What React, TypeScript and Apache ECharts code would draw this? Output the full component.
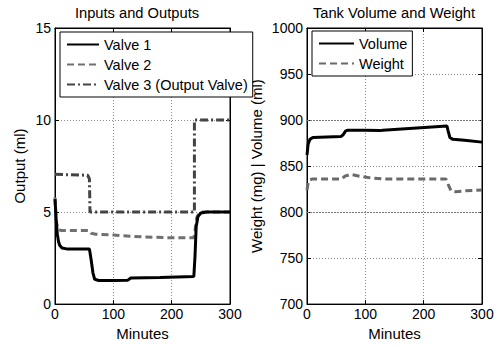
import React, { useEffect, useRef } from "react";
import * as echarts from "echarts";

const FONT = "Liberation Sans";

// Left panel: Inputs and Outputs
const valve1T = [0, 2, 4, 6, 8, 12, 20, 59, 62, 65, 68, 75, 100, 125, 130, 180, 238, 240, 242, 245, 250, 260, 300];
const valve1V = [5.7, 4.6, 3.8, 3.4, 3.2, 3.05, 3.0, 3.0, 2.4, 1.7, 1.35, 1.28, 1.28, 1.3, 1.42, 1.45, 1.5, 2.6, 4.2, 4.75, 4.95, 5.0, 5.0];

const valve2T = [0, 2, 5, 10, 58, 62, 70, 100, 150, 200, 238, 240, 243, 247, 252, 300];
const valve2V = [5.8, 4.5, 4.1, 4.0, 4.0, 3.85, 3.8, 3.75, 3.65, 3.6, 3.6, 4.0, 4.7, 4.95, 5.0, 5.0];

const valve3T = [0, 56, 59, 60, 239, 239, 300];
const valve3V = [7.05, 7.0, 6.8, 5.0, 5.0, 10.0, 10.0];

// Right panel: Tank Volume and Weight
const volumeT = [0, 2, 5, 10, 58, 62, 66, 70, 100, 125, 130, 240, 242, 245, 250, 270, 300];
const volumeV = [862, 874, 879, 881, 882, 884, 888, 889, 889, 888.5, 889, 893.5, 888, 881, 879, 878, 876];

const weightT = [0, 2, 5, 10, 60, 65, 75, 90, 110, 130, 238, 242, 247, 255, 270, 300];
const weightV = [824, 832, 835, 836, 836, 839, 841, 839, 837, 836, 836, 830, 823, 822, 823, 824];

const leftNames = ["Valve 1", "Valve 2", "Valve 3 (Output Valve)"];
const rightNames = ["Volume", "Weight"];
const xTicks = { min: 0, max: 300, interval: 100 };
const leftY = { min: 0, max: 15, interval: 5 };
const rightY = { min: 700, max: 1000, interval: 50 };
const rightMajorLines = [800, 900];

const zip = (t: number[], v: number[]) => t.map((x, i) => [x, v[i]]);

export default function App() {
  const ref = useRef<HTMLDivElement>(null);
  useEffect(() => {
    if (!ref.current) return;
    const chart = echarts.init(ref.current, null, { renderer: "svg" });
    const gridLine = { show: true, lineStyle: { color: "#8a8a8a", type: [1, 2] as any, width: 1 } };
    const labelStyle = { color: "#000", fontSize: 14, fontFamily: FONT, formatter: (v: number) => String(v) };
    const mainX = (gi: number) => ({
      type: "value",
      gridIndex: gi,
      ...xTicks,
      position: "bottom",
      axisLine: { show: true, onZero: false, lineStyle: { color: "#000" } },
      axisTick: { show: true, inside: true, length: 4, lineStyle: { color: "#000" } },
      axisLabel: { ...labelStyle, margin: 3 },
      splitLine: gridLine,
      name: "Minutes",
      nameLocation: "middle",
      nameGap: 19,
      nameTextStyle: { color: "#000", fontSize: 15, fontFamily: FONT },
    });
    const topX = (gi: number) => ({
      type: "value",
      gridIndex: gi,
      ...xTicks,
      position: "top",
      axisLine: { show: true, onZero: false, lineStyle: { color: "#000" } },
      axisTick: { show: true, inside: true, length: 4, lineStyle: { color: "#000" } },
      axisLabel: { show: false },
      splitLine: { show: false },
    });
    const mainY = (gi: number, r: any, name: string, gap: number) => ({
      type: "value",
      gridIndex: gi,
      ...r,
      position: "left",
      axisLine: { show: true, onZero: false, lineStyle: { color: "#000" } },
      axisTick: { show: true, inside: true, length: 4, lineStyle: { color: "#000" } },
      axisLabel: { ...labelStyle, margin: 4 },
      splitLine: gridLine,
      name,
      nameLocation: "middle",
      nameGap: gap,
      nameTextStyle: { color: "#000", fontSize: 15, fontFamily: FONT },
    });
    const rightSideY = (gi: number, r: any) => ({
      type: "value",
      gridIndex: gi,
      ...r,
      position: "right",
      axisLine: { show: true, onZero: false, lineStyle: { color: "#000" } },
      axisTick: { show: true, inside: true, length: 4, lineStyle: { color: "#000" } },
      axisLabel: { show: false },
      splitLine: { show: false },
    });
    const base = { type: "line", showSymbol: false, symbol: "none", smooth: false };
    const legendCommon = {
      orient: "vertical",
      padding: [5, 5, 5, 6],
      itemGap: 5,
      itemHeight: 14,
      backgroundColor: "#fff",
      borderColor: "#000",
      borderWidth: 1,
      borderRadius: 0,
      textStyle: { color: "#000", fontSize: 14.5, fontFamily: FONT },
      itemStyle: { opacity: 0 },
      selectedMode: false,
      z: 10,
    };
    chart.setOption({
      animation: false,
      backgroundColor: "#fff",
      textStyle: { fontFamily: FONT },
      grid: [
        { left: 55, top: 28, width: 175, height: 280, show: true, borderColor: "#000", borderWidth: 1 },
        { left: 307, top: 28, width: 175, height: 280, show: true, borderColor: "#000", borderWidth: 1 },
      ],
      xAxis: [mainX(0), topX(0), mainX(1), topX(1)],
      yAxis: [
        mainY(0, leftY, "Output (ml)", 28),
        rightSideY(0, leftY),
        mainY(1, rightY, "Weight (mg) | Volume (ml)", 43),
        rightSideY(1, rightY),
      ],
      legend: [
        { ...legendCommon, data: leftNames, left: 60, top: 32, itemWidth: 32 },
        { ...legendCommon, data: rightNames, left: 312, top: 31, itemWidth: 35 },
      ],
      graphic: [
        {
          type: "text",
          x: 137,
          y: 13,
          style: { text: "Inputs and Outputs", fontSize: 14.7, fontFamily: FONT, fill: "#000", textAlign: "center", textVerticalAlign: "middle" },
        },
        {
          type: "text",
          x: 394,
          y: 13,
          style: { text: "Tank Volume and Weight", fontSize: 14.7, fontFamily: FONT, fill: "#000", textAlign: "center", textVerticalAlign: "middle" },
        },
      ],
      series: [
        {
          ...base,
          name: leftNames[0],
          xAxisIndex: 0,
          yAxisIndex: 0,
          data: zip(valve1T, valve1V),
          lineStyle: { color: "#000", width: 3 },
          itemStyle: { color: "#000" },
          z: 5,
        },
        {
          ...base,
          name: leftNames[1],
          xAxisIndex: 0,
          yAxisIndex: 0,
          data: zip(valve2T, valve2V),
          lineStyle: { color: "#707070", width: 3, type: [7, 4] },
          itemStyle: { color: "#707070" },
          z: 4,
        },
        {
          ...base,
          name: leftNames[2],
          xAxisIndex: 0,
          yAxisIndex: 0,
          data: zip(valve3T, valve3V),
          lineStyle: { color: "#444", width: 3, type: [8, 3, 2, 3] },
          itemStyle: { color: "#444" },
          z: 3,
        },
        {
          ...base,
          name: rightNames[0],
          xAxisIndex: 2,
          yAxisIndex: 2,
          data: zip(volumeT, volumeV),
          lineStyle: { color: "#000", width: 3 },
          itemStyle: { color: "#000" },
          z: 5,
        },
        {
          ...base,
          name: rightNames[1],
          xAxisIndex: 2,
          yAxisIndex: 2,
          data: zip(weightT, weightV),
          lineStyle: { color: "#6a6a6a", width: 3, type: [7, 4] },
          itemStyle: { color: "#6a6a6a" },
          z: 4,
          markLine: {
            silent: true,
            symbol: "none",
            label: { show: false },
            lineStyle: { color: "#777", type: [2, 1], width: 1 },
            data: rightMajorLines.map((v) => ({ yAxis: v })),
            z: 1,
          },
        },
      ],
    });
    return () => chart.dispose();
  }, []);
  return <div ref={ref} style={{ position: "absolute", left: 0, top: 0, width: 500, height: 346 }} />;
}
